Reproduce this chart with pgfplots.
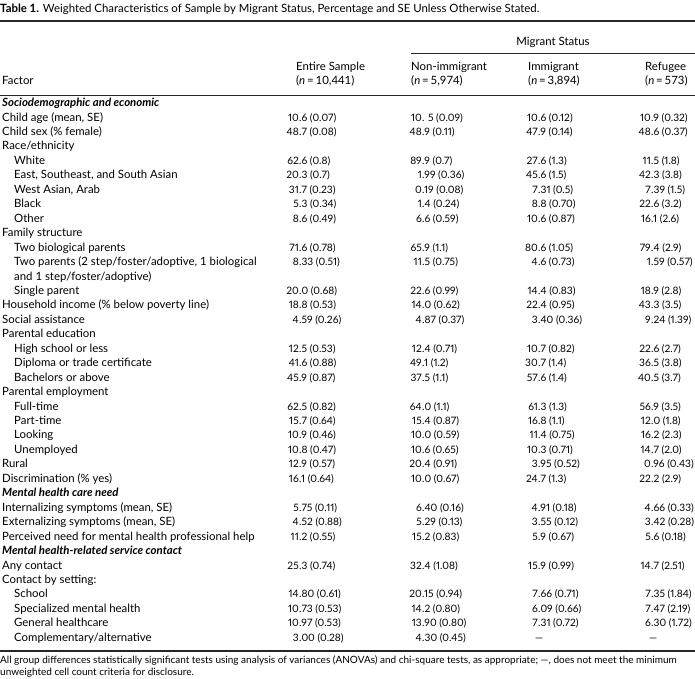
\documentclass[border=0pt]{standalone}
\usepackage{pgfplots}
\usepackage{pgfplotstable}
\pgfplotsset{compat=1.18}
\usepackage{fontspec}
\setmainfont{Lato}
\newfontfamily\numfont{Lato}[Numbers={Proportional,Lining}]
\newcommand{\ystart}{106.6}
\newcommand{\pitch}{14.45}
\newcommand{\lblfont}{\fontsize{11.4}{13}\selectfont}
\newcommand{\nfont}{\numfont\fontsize{10.2}{12}\selectfont}

\pgfplotstableread[col sep=semicolon]{
r;x;label
0;2;\textbf{\textit{Sociodemographic and economic}}
1;2;Child age (mean, SE)
2;2;Child sex (\% female)
3;2;Race/ethnicity
4;14;White
5;14;East, Southeast, and South Asian
6;14;West Asian, Arab
7;14;Black
8;14;Other
9;2;Family structure
10;14;Two biological parents
11;14;Two parents (2 step/foster/adoptive, 1 biological
12;14;and 1 step/foster/adoptive)
13;14;Single parent
14;2;Household income (\% below poverty line)
15;2;Social assistance
16;2;Parental education
17;14;High school or less
18;14;Diploma or trade certificate
19;14;Bachelors or above
20;2;Parental employment
21;14;Full-time
22;14;Part-time
23;14;Looking
24;14;Unemployed
25;2;Rural
26;2;Discrimination (\% yes)
27;2;\textbf{\textit{Mental health care need}}
28;2;Internalizing symptoms (mean, SE)
29;2;Externalizing symptoms (mean, SE)
30;2;Perceived need for mental health professional help
31;2;\textbf{\textit{Mental health-related service contact}}
32;2;Any contact
33;2;Contact by setting:
34;14;School
35;14;Specialized mental health
36;14;General healthcare
37;14;Complementary/alternative
}\labels

\pgfplotstableread[col sep=semicolon]{
r;int;rest
1;10;.6 (0.07)
2;48;.7 (0.08)
4;62;.6 (0.8)
5;20;.3 (0.7)
6;31;.7 (0.23)
7;5;.3 (0.34)
8;8;.6 (0.49)
10;71;.6 (0.78)
11;8;.33 (0.51)
13;20;.0 (0.68)
14;18;.8 (0.53)
15;4;.59 (0.26)
17;12;.5 (0.53)
18;41;.6 (0.88)
19;45;.9 (0.87)
21;62;.5 (0.82)
22;15;.7 (0.64)
23;10;.9 (0.46)
24;10;.8 (0.47)
25;12;.9 (0.57)
26;16;.1 (0.64)
28;5;.75 (0.11)
29;4;.52 (0.88)
30;11;.2 (0.55)
32;25;.3 (0.74)
34;14;.80 (0.61)
35;10;.73 (0.53)
36;10;.97 (0.53)
37;3;.00 (0.28)
}\entire

\pgfplotstableread[col sep=semicolon]{
r;int;rest
1;10;. 5 (0.09)
2;48;.9 (0.11)
4;89;.9 (0.7)
5;1;.99 (0.36)
6;0;.19 (0.08)
7;1;.4 (0.24)
8;6;.6 (0.59)
10;65;.9 (1.1)
11;11;.5 (0.75)
13;22;.6 (0.99)
14;14;.0 (0.62)
15;4;.87 (0.37)
17;12;.4 (0.71)
18;49;.1 (1.2)
19;37;.5 (1.1)
21;64;.0 (1.1)
22;15;.4 (0.87)
23;10;.0 (0.59)
24;10;.6 (0.65)
25;20;.4 (0.91)
26;10;.0 (0.67)
28;6;.40 (0.16)
29;5;.29 (0.13)
30;15;.2 (0.83)
32;32;.4 (1.08)
34;20;.15 (0.94)
35;14;.2 (0.80)
36;13;.90 (0.80)
37;4;.30 (0.45)
}\nonimm

\pgfplotstableread[col sep=semicolon]{
r;int;rest
1;10;.6 (0.12)
2;47;.9 (0.14)
4;27;.6 (1.3)
5;45;.6 (1.5)
6;7;.31 (0.5)
7;8;.8 (0.70)
8;10;.6 (0.87)
10;80;.6 (1.05)
11;4;.6 (0.73)
13;14;.4 (0.83)
14;22;.4 (0.95)
15;3;.40 (0.36)
17;10;.7 (0.82)
18;30;.7 (1.4)
19;57;.6 (1.4)
21;61;.3 (1.3)
22;16;.8 (1.1)
23;11;.4 (0.75)
24;10;.3 (0.71)
25;3;.95 (0.52)
26;24;.7 (1.3)
28;4;.91 (0.18)
29;3;.55 (0.12)
30;5;.9 (0.67)
32;15;.9 (0.99)
34;7;.66 (0.71)
35;6;.09 (0.66)
36;7;.31 (0.72)
}\imm

\pgfplotstableread[col sep=semicolon]{
r;int;rest
1;10;.9 (0.32)
2;48;.6 (0.37)
4;11;.5 (1.8)
5;42;.3 (3.8)
6;7;.39 (1.5)
7;22;.6 (3.2)
8;16;.1 (2.6)
10;79;.4 (2.9)
11;1;.59 (0.57)
13;18;.9 (2.8)
14;43;.3 (3.5)
15;9;.24 (1.39)
17;22;.6 (2.7)
18;36;.5 (3.8)
19;40;.5 (3.7)
21;56;.9 (3.5)
22;12;.0 (1.8)
23;16;.2 (2.3)
24;14;.7 (2.0)
25;0;.96 (0.43)
26;22;.2 (2.9)
28;4;.66 (0.33)
29;3;.42 (0.28)
30;5;.6 (0.18)
32;14;.7 (2.51)
34;7;.35 (1.84)
35;7;.47 (2.19)
36;6;.30 (1.72)
}\refu

\pgfplotstableread[col sep=semicolon]{
r;x;label
37;535;—
37;649;—
}\dashes

\pgfplotsset{
  cellint/.style={draw=none, mark=none, nodes near coords, point meta=explicit symbolic,
    every node near coord/.style={anchor=base east, inner sep=0pt, font=\nfont}},
  cellrest/.style={draw=none, mark=none, nodes near coords, point meta=explicit symbolic,
    every node near coord/.style={anchor=base west, inner sep=0pt, font=\nfont}},
  celllabel/.style={draw=none, mark=none, nodes near coords, point meta=explicit symbolic,
    every node near coord/.style={anchor=base west, inner sep=0pt, font=\lblfont}},
}

\begin{document}
\begin{tikzpicture}
\begin{axis}[
  width=695pt, height=678pt, scale only axis,
  xmin=0, xmax=695, ymin=0, ymax=678, y dir=reverse,
  hide axis, clip=false,
]
% row labels
\addplot[celllabel] table[x=x, y expr=\ystart+\pitch*\thisrow{r}, meta=label] {\labels};
% Entire sample
\addplot[cellint] table[x expr=299, y expr=\ystart+\pitch*\thisrow{r}, meta=int] {\entire};
\addplot[cellrest] table[x expr=299, y expr=\ystart+\pitch*\thisrow{r}, meta=rest] {\entire};
% Non-immigrant
\addplot[cellint] table[x expr=422, y expr=\ystart+\pitch*\thisrow{r}, meta=int] {\nonimm};
\addplot[cellrest] table[x expr=422, y expr=\ystart+\pitch*\thisrow{r}, meta=rest] {\nonimm};
% Immigrant
\addplot[cellint] table[x expr=538, y expr=\ystart+\pitch*\thisrow{r}, meta=int] {\imm};
\addplot[cellrest] table[x expr=538, y expr=\ystart+\pitch*\thisrow{r}, meta=rest] {\imm};
% Refugee
\addplot[cellint] table[x expr=651, y expr=\ystart+\pitch*\thisrow{r}, meta=int] {\refu};
\addplot[cellrest] table[x expr=651, y expr=\ystart+\pitch*\thisrow{r}, meta=rest] {\refu};
% dashes
\addplot[cellrest] table[x=x, y expr=\ystart+\pitch*\thisrow{r}, meta=label] {\dashes};

% title
\node[anchor=base west, inner sep=0pt, font=\lblfont] at (axis cs:0,12)
  {\textbf{Table 1.} Weighted Characteristics of Sample by Migrant Status, Percentage and SE Unless Otherwise Stated.};
% rules
\draw[line width=1.3pt, black!85] (axis cs:0,21) -- (axis cs:695,21);
\draw[line width=0.7pt, black!85] (axis cs:411,53) -- (axis cs:695,53);
\draw[line width=0.7pt, black!85] (axis cs:0,95) -- (axis cs:695,95);
\draw[line width=1.3pt, black!85] (axis cs:0,651) -- (axis cs:695,651);
% headers
\begin{scope}[every node/.style={anchor=base west, inner sep=0pt, font=\lblfont}]
\node[anchor=base] at (axis cs:553,45) {Migrant Status};
\node at (axis cs:2,84) {Factor};
\node at (axis cs:296,70) {Entire Sample};
\node at (axis cs:296,84) {(\textit{n}\,=\,10,441)};
\node at (axis cs:411,70) {Non-immigrant};
\node at (axis cs:411,84) {(\textit{n}\,=\,5,974)};
\node at (axis cs:528,70) {Immigrant};
\node at (axis cs:528,84) {(\textit{n}\,=\,3,894)};
\node at (axis cs:645,70) {Refugee};
\node at (axis cs:645,84) {(\textit{n}\,=\,573)};
\end{scope}
% footnote
\node[anchor=base west, inner sep=0pt, font=\fontsize{10.0}{14}\selectfont] at (axis cs:0,663)
  {All group differences statistically significant tests using analysis of variances (ANOVAs) and chi-square tests, as appropriate; —, does not meet the minimum};
\node[anchor=base west, inner sep=0pt, font=\fontsize{10.0}{14}\selectfont] at (axis cs:0,675)
  {unweighted cell count criteria for disclosure.};
\end{axis}
\pgfresetboundingbox
\path (0,0) rectangle (695pt,678pt);
\end{tikzpicture}
\end{document}
